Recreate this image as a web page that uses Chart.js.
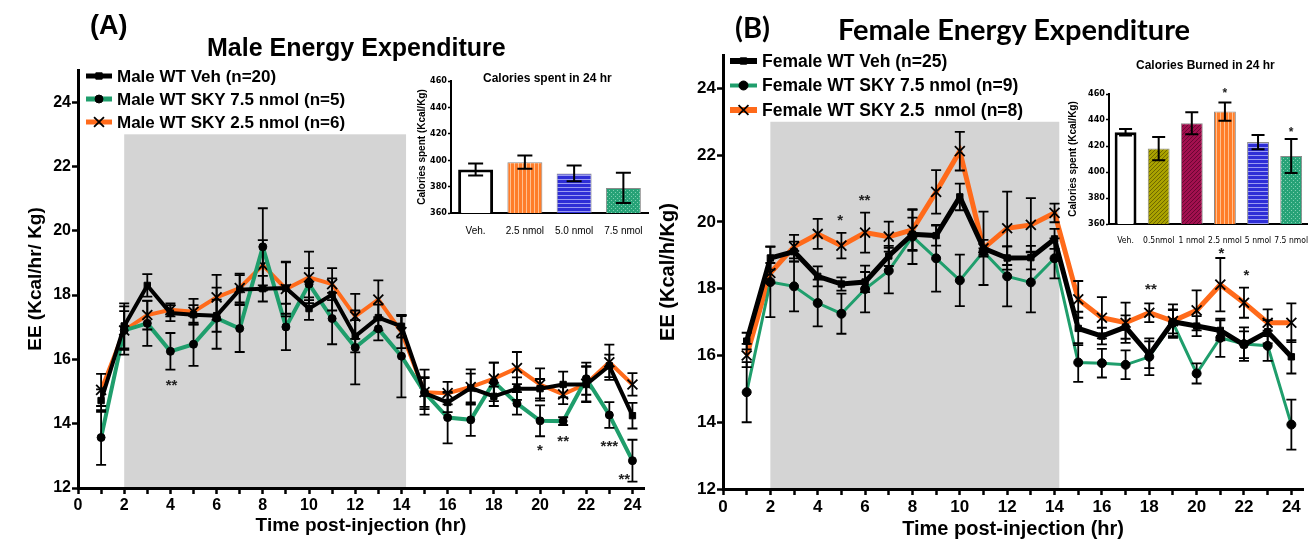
<!DOCTYPE html>
<html>
<head>
<meta charset="utf-8">
<script src="https://cdn.jsdelivr.net/npm/chart.js@4.4.1/dist/chart.umd.min.js"></script>
<style>
  body { margin: 0; background: #fff; }
  #wrap { position: relative; width: 1312px; height: 541px; overflow: hidden; font-family: "Liberation Sans", Arial, sans-serif; }
  canvas { position: absolute; }
  .t { position: absolute; font-weight: bold; white-space: nowrap; color: #000; line-height: 1; }
</style>
</head>
<body>
<div id="wrap">
  <canvas id="maleChart" width="656" height="541" style="left:0;top:0"></canvas>
  <canvas id="femaleChart" width="656" height="541" style="left:656px;top:0"></canvas>
  <canvas id="maleBars" width="260" height="175" style="left:395px;top:60px"></canvas>
  <canvas id="femaleBars" width="247" height="165" style="left:1065px;top:80px"></canvas>

  <div class="t" style="left:90px;top:12px;font-size:27px">(A)</div>
  <div class="t" style="left:207px;top:35px;font-size:25px">Male Energy Expenditure</div>
  <div class="t" style="left:735px;top:12px;font-size:29px;font-family:Lato,sans-serif">(B)</div>
  <div class="t" style="left:838px;top:14px;font-size:29px;font-family:Lato,sans-serif">Female Energy Expenditure</div>
  <div class="t" style="left:483px;top:72px;font-size:12px">Calories spent in 24 hr</div>
  <div class="t" style="left:1136px;top:59px;font-size:12px">Calories Burned in 24 hr</div>
</div>

<script>
// horas post-inyección
const hours = [1, 2, 3, 4, 5, 6, 7, 8, 9, 10, 11, 12, 13, 14, 15, 16, 17, 18, 19, 20, 21, 22, 23, 24];

// (A) machos
const maleVeh      = [14.72, 17.04, 18.30, 17.44, 17.39, 17.36, 18.17, 18.20, 18.22, 17.58, 18.02, 16.72, 17.30, 17.03, 14.95, 14.66, 15.11, 14.85, 15.09, 15.09, 15.22, 15.22, 15.80, 14.25];
const maleVehErr   = [0.35, 0.70, 0.35, 0.25, 0.30, 0.50, 0.45, 0.40, 0.80, 0.35, 0.50, 0.50, 0.40, 0.35, 0.50, 0.30, 0.45, 0.30, 0.35, 0.30, 0.40, 0.55, 0.35, 0.40];
const maleSky75    = [13.57, 16.90, 17.12, 16.25, 16.47, 17.28, 16.96, 19.50, 17.01, 18.34, 17.27, 16.37, 16.95, 16.10, 14.97, 14.19, 14.12, 15.30, 14.63, 14.09, 14.08, 15.40, 14.27, 12.85];
const maleSky75Err = [0.85, 0.75, 0.70, 0.57, 0.67, 0.95, 0.73, 1.20, 0.72, 0.50, 0.80, 1.15, 0.36, 1.28, 0.45, 0.80, 0.50, 0.60, 0.35, 0.48, 0.12, 0.50, 0.40, 0.65];
const maleSky25    = [15.05, 16.90, 17.38, 17.54, 17.48, 17.93, 18.22, 18.93, 18.19, 18.55, 18.34, 17.34, 17.86, 16.85, 14.98, 14.95, 15.14, 15.40, 15.73, 15.22, 14.91, 15.24, 15.91, 15.22];
const maleSky25Err = [0.50, 0.60, 0.45, 0.20, 0.40, 0.70, 0.45, 0.78, 0.85, 0.80, 0.50, 0.70, 0.60, 0.50, 0.70, 0.35, 0.55, 0.50, 0.50, 0.50, 0.30, 0.55, 0.55, 0.35];
const maleLabels   = ['Male WT Veh (n=20)', 'Male WT SKY 7.5 nmol (n=5)', 'Male WT SKY 2.5 nmol (n=6)'];
const maleStars    = [[4.05, 15.3, '**'], [20.0, 13.29, '*'], [21.0, 13.57, '**'], [23.0, 13.42, '***'], [23.65, 12.38, '**']];

// (B) hembras
const femVeh       = [16.43, 18.92, 19.11, 18.37, 18.14, 18.20, 18.98, 19.63, 19.59, 20.75, 19.21, 18.92, 18.93, 19.49, 16.81, 16.58, 16.85, 16.02, 17.01, 16.88, 16.75, 16.32, 16.71, 15.96];
const femVehErr    = [0.25, 0.35, 0.30, 0.30, 0.20, 0.30, 0.30, 0.50, 0.30, 0.40, 1.10, 0.35, 0.35, 0.30, 0.50, 0.25, 0.35, 0.40, 0.35, 0.30, 0.30, 0.40, 0.35, 0.50];
const femSky75     = [14.90, 18.20, 18.07, 17.57, 17.25, 17.99, 18.54, 19.56, 18.91, 18.25, 19.11, 18.37, 18.19, 18.91, 15.79, 15.77, 15.72, 15.96, 16.98, 15.46, 16.53, 16.34, 16.29, 13.93];
const femSky75Err  = [0.90, 1.05, 0.75, 0.70, 0.60, 0.70, 0.68, 0.82, 1.00, 0.77, 0.10, 0.90, 0.90, 0.60, 0.58, 0.43, 0.43, 0.55, 0.40, 0.30, 0.57, 0.50, 0.45, 0.75];
const femSky25     = [16.00, 18.47, 19.26, 19.64, 19.29, 19.68, 19.56, 19.76, 20.90, 22.12, 19.21, 19.81, 19.91, 20.27, 17.68, 17.13, 16.98, 17.28, 17.03, 17.35, 18.12, 17.58, 16.98, 16.98];
const femSky25Err  = [0.35, 0.30, 0.35, 0.45, 0.38, 0.60, 0.45, 0.60, 0.65, 0.58, 0.25, 1.10, 0.80, 0.28, 0.55, 0.62, 0.60, 0.28, 0.50, 0.60, 0.80, 0.45, 0.40, 0.58];
const femLabels    = ['Female WT Veh (n=25)', 'Female WT SKY 7.5 nmol (n=9)', 'Female WT SKY 2.5  nmol (n=8)'];
const femStars     = [[4.95, 20.15, '*'], [5.98, 20.77, '**'], [18.07, 18.1, '**'], [21.05, 19.18, '*'], [22.1, 18.5, '*']];

// periodo oscuro (zona gris)
const darkStart = 2, darkEnd = 14.2, darkTop = 23;

// insertos: calorías en 24 h
const maleBarLabels = ['Veh.', '2.5 nmol', '5.0 nmol', '7.5 nmol'];
const maleBarValues = [393, 398.5, 390, 379];
const maleBarErrors = [4.5, 5, 6, 11.5];
const femBarLabels  = ['Veh.', '0.5nmol', '1 nmol', '2.5 nmol', '5 nmol', '7.5 nmol'];
const femBarValues  = [430.6, 418, 437.5, 446.5, 423, 412.3];
const femBarErrors  = [2.5, 9, 8.5, 7, 5.5, 13];
const femBarStars   = [[3, 462.5, '*'], [5, 433, '*']];

const GREEN = '#1f9e6c';
const ORANGE = '#ff6a1a';
const AX = '"Liberation Sans", Arial, sans-serif';
const NARROW = '"Liberation Sans Narrow", "DejaVu Sans Condensed", "Liberation Sans", sans-serif';

// patrón de rayas para las barras
function stripes(bg, fg, kind) {
  const c = document.createElement('canvas');
  c.width = 4; c.height = 4;
  const g = c.getContext('2d');
  g.fillStyle = bg; g.fillRect(0, 0, 4, 4);
  g.fillStyle = fg;
  if (kind === 'v') g.fillRect(3, 0, 1, 4);
  if (kind === 'h') g.fillRect(0, 3, 4, 1);
  if (kind === 'd') { g.fillRect(0, 3, 1, 1); g.fillRect(1, 2, 1, 1); g.fillRect(2, 1, 1, 1); g.fillRect(3, 0, 1, 1); }
  if (kind === 'x') { g.fillRect(0, 0, 1, 1); g.fillRect(2, 2, 1, 1); }
  return g.createPattern(c, 'repeat');
}

const shadePlugin = {
  id: 'shade',
  beforeDraw(chart, args, o) {
    if (!o.color) return;
    const {ctx, scales: {x, y}} = chart;
    const x0 = x.getPixelForValue(darkStart), x1 = x.getPixelForValue(darkEnd);
    const y0 = y.getPixelForValue(darkTop), y1 = y.getPixelForValue(y.min);
    ctx.save();
    ctx.fillStyle = o.color;
    ctx.fillRect(x0, y0, x1 - x0, y1 - y0);
    ctx.restore();
  }
};

const errorBarPlugin = {
  id: 'errorBars',
  afterDatasetsDraw(chart, args, o) {
    const ctx = chart.ctx;
    chart.data.datasets.forEach((ds, i) => {
      if (!ds.errors) return;
      const meta = chart.getDatasetMeta(i);
      const yS = chart.scales[meta.yAxisID];
      ctx.save();
      ctx.strokeStyle = '#000';
      ctx.lineWidth = o.width;
      meta.data.forEach((el, j) => {
        const d = ds.data[j];
        const v = typeof d === 'object' ? d.y : d;
        const e = ds.errors[j];
        const top = yS.getPixelForValue(v + e), bot = yS.getPixelForValue(v - e);
        ctx.beginPath();
        ctx.moveTo(el.x, top); ctx.lineTo(el.x, bot);
        ctx.moveTo(el.x - o.cap, top); ctx.lineTo(el.x + o.cap, top);
        ctx.moveTo(el.x - o.cap, bot); ctx.lineTo(el.x + o.cap, bot);
        ctx.stroke();
      });
      ctx.restore();
    });
  }
};

const starPlugin = {
  id: 'stars',
  afterDatasetsDraw(chart, args, o) {
    if (!o.list) return;
    const {ctx, scales: {x, y}} = chart;
    ctx.save();
    ctx.fillStyle = '#222';
    ctx.font = 'bold ' + o.size + 'px ' + AX;
    ctx.textAlign = 'center';
    ctx.textBaseline = 'alphabetic';
    o.list.forEach(s => {
      ctx.fillText(s[2], x.getPixelForValue(s[0]), y.getPixelForValue(s[1]) + o.size * 0.56);
    });
    ctx.restore();
  }
};

// leyenda con línea y marcador
const lineLegendPlugin = {
  id: 'lineLegend',
  afterDraw(chart, args, o) {
    if (!o.x) return;
    const ctx = chart.ctx;
    chart.data.datasets.forEach((ds, i) => {
      const y = o.y + i * o.dy;
      ctx.save();
      ctx.strokeStyle = ds.borderColor;
      ctx.lineWidth = ds.borderWidth + 1;
      ctx.beginPath();
      ctx.moveTo(o.x, y); ctx.lineTo(o.x + o.len, y);
      ctx.stroke();
      ctx.fillStyle = '#000';
      ctx.strokeStyle = '#000';
      ctx.lineWidth = ds.pointStyle === 'crossRot' ? 1.8 : 1;
      Chart.helpers.drawPoint(ctx, {pointStyle: ds.pointStyle, radius: ds.pointRadius, rotation: 0, borderWidth: ctx.lineWidth}, o.x + o.len / 2, y);
      ctx.font = 'bold ' + o.size + 'px ' + AX;
      ctx.textBaseline = 'middle';
      ctx.fillText(ds.label, o.x + o.len + o.gap, y + 1);
      ctx.restore();
    });
  }
};

function series(label, values, errors, color, width, marker, radius) {
  return {
    label: label,
    data: hours.map((h, i) => ({x: h, y: values[i]})),
    errors: errors,
    borderColor: color,
    borderWidth: width,
    pointStyle: marker,
    pointRadius: radius,
    pointBackgroundColor: '#000',
    pointBorderColor: '#000',
    pointBorderWidth: marker === 'crossRot' ? 1.8 : 1,
    tension: 0,
    fill: false
  };
}

function mainChart(id, c) {
  return new Chart(document.getElementById(id), {
    type: 'line',
    data: {datasets: c.datasets},
    options: {
      responsive: false,
      animation: false,
      devicePixelRatio: 1,
      layout: {padding: c.padding},
      plugins: {
        legend: {display: false},
        tooltip: {enabled: false},
        shade: {color: '#d4d4d4'},
        errorBars: {width: 1.8, cap: 5},
        stars: {list: c.stars, size: 15},
        lineLegend: c.legend
      },
      scales: {
        x: {
          type: 'linear', min: 0, max: 24.5,
          afterFit: s => { s.height = c.xH; },
          grid: {display: true, drawOnChartArea: false, drawTicks: true, tickLength: 6, tickWidth: 2.5, tickColor: '#000'},
          border: {display: true, color: '#000', width: 3},
          ticks: {stepSize: 1, includeBounds: false, autoSkip: false, maxRotation: 0, padding: 2, color: '#000',
                  font: {family: AX, size: c.tick, weight: 'bold'}, callback: v => (v % 2 === 0 ? v : '')},
          title: {display: true, text: 'Time post-injection (hr)', color: '#000',
                  font: {family: AX, size: c.xTitleSize, weight: 'bold'}, padding: {top: 0, bottom: c.xTitlePad}}
        },
        y: {
          min: 12, max: 25,
          afterFit: s => { s.width = c.yW; },
          grid: {display: true, drawOnChartArea: false, drawTicks: true, tickLength: 6, tickWidth: 2.5, tickColor: '#000'},
          border: {display: true, color: '#000', width: 3},
          ticks: {stepSize: 2, includeBounds: false, padding: 1, color: '#000', font: {family: AX, size: c.tick, weight: 'bold'}},
          title: {display: true, text: c.yTitle, color: '#000',
                  font: {family: AX, size: c.yTitleSize, weight: 'bold'}, padding: {top: c.yTitlePad, bottom: 0}}
        }
      }
    },
    plugins: [shadePlugin, errorBarPlugin, starPlugin, lineLegendPlugin]
  });
}

function barChart(id, c) {
  return new Chart(document.getElementById(id), {
    type: 'bar',
    data: {
      labels: c.labels,
      datasets: [{
        data: c.values,
        errors: c.errors,
        backgroundColor: c.fills,
        borderColor: c.fills.map((f, i) => (i === 0 ? '#000' : '#8a8a8a')),
        borderWidth: c.fills.map((f, i) => (i === 0 ? 3 : 1)),
        borderSkipped: false,
        barPercentage: c.barPct,
        categoryPercentage: 1
      }]
    },
    options: {
      responsive: false,
      animation: false,
      devicePixelRatio: 1,
      layout: {padding: c.padding},
      plugins: {
        legend: {display: false},
        tooltip: {enabled: false},
        errorBars: {width: 2, cap: c.cap},
        stars: {list: c.stars, size: 12}
      },
      scales: {
        x: {
          afterFit: s => { s.height = c.xH; },
          grid: {display: false},
          border: {display: true, color: '#000', width: 2},
          ticks: {padding: 4, color: '#000', maxRotation: 0, autoSkip: false, font: c.xFont}
        },
        y: {
          min: 360, max: 460,
          afterFit: s => { s.width = c.yW; },
          grid: {display: true, drawOnChartArea: false, drawTicks: true, tickLength: 3, tickWidth: 1.5, tickColor: '#000'},
          border: {display: true, color: '#000', width: 2},
          ticks: {stepSize: 20, padding: 1, color: '#000', font: {family: NARROW, size: 9, weight: 'bold'}},
          title: {display: true, text: 'Calories spent (Kcal/Kg)', color: '#000',
                  font: {family: AX, size: 10, weight: 'bold'}, padding: {top: c.yTitlePad, bottom: 0}}
        }
      }
    },
    plugins: [errorBarPlugin, starPlugin]
  });
}

mainChart('maleChart', {
  datasets: [
    series(maleLabels[0], maleVeh, maleVehErr, '#000', 4, 'rect', 4.5),
    series(maleLabels[1], maleSky75, maleSky75Err, GREEN, 4, 'circle', 4),
    series(maleLabels[2], maleSky25, maleSky25Err, ORANGE, 4, 'crossRot', 7)
  ],
  padding: {left: 0, right: 12, top: 70, bottom: 0},
  xH: 53, yW: 78, tick: 16,
  xTitleSize: 19, xTitlePad: 4,
  yTitle: 'EE (Kcal/hr/ Kg)', yTitleSize: 19, yTitlePad: 24,
  stars: maleStars,
  legend: {x: 86, y: 76, dy: 23, len: 26, gap: 5, size: 17}
});

mainChart('femaleChart', {
  datasets: [
    series(femLabels[0], femVeh, femVehErr, '#000', 5, 'rect', 4.5),
    series(femLabels[1], femSky75, femSky75Err, GREEN, 3, 'circle', 4.5),
    series(femLabels[2], femSky25, femSky25Err, ORANGE, 5, 'crossRot', 7)
  ],
  padding: {left: 0, right: 3, top: 55, bottom: 0},
  xH: 52, yW: 67, tick: 17,
  xTitleSize: 20, xTitlePad: 0,
  yTitle: 'EE (Kcal/h/Kg)', yTitleSize: 20, yTitlePad: 0,
  stars: femStars,
  legend: {x: 74, y: 61, dy: 24.5, len: 27, gap: 5, size: 17.5}
});

barChart('maleBars', {
  labels: maleBarLabels, values: maleBarValues, errors: maleBarErrors,
  fills: ['#fff', stripes('#ff7d2a', '#ffc090', 'v'), stripes('#2e2ed6', '#9a9af2', 'h'), stripes('#27a277', '#7fd0b0', 'x')],
  padding: {left: 0, right: 7, top: 21, bottom: 0},
  xH: 22, yW: 56, yTitlePad: 21, barPct: 0.71, cap: 7.5, stars: null,
  xFont: {family: AX, size: 10, weight: 'normal'}
});

barChart('femaleBars', {
  labels: femBarLabels, values: femBarValues, errors: femBarErrors,
  fills: ['#fff', stripes('#aaa200', '#6e6800', 'd'), stripes('#a3104f', '#6a0632', 'd'),
          stripes('#ff7d2a', '#ffc090', 'v'), stripes('#2e2ed6', '#9a9af2', 'h'), stripes('#27a277', '#7fd0b0', 'x')],
  padding: {left: 0, right: 0, top: 14, bottom: 0},
  xH: 21, yW: 44, yTitlePad: 2, barPct: 0.66, cap: 6.5, stars: femBarStars,
  xFont: {family: NARROW, size: 8.5, weight: 'normal'}
});
</script>
</body>
</html>
